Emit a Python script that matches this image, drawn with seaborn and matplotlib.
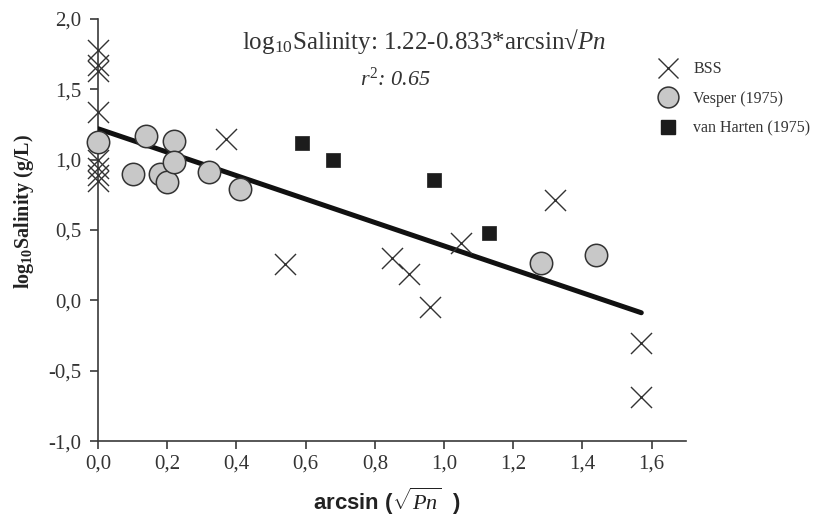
import numpy as np
import pandas as pd
import matplotlib
matplotlib.use("Agg")
import matplotlib.pyplot as plt
from matplotlib.ticker import FuncFormatter, MultipleLocator
from matplotlib.lines import Line2D
import seaborn as sns

# BSS samples
bss_x = [0.0, 0.0, 0.0, 0.0, 0.0, 0.0, 0.0, 0.0, 0.37, 0.54, 0.85, 0.90, 0.96, 1.05, 1.32, 1.57, 1.57]
bss_y = [1.78, 1.67, 1.63, 1.34, 1.00, 0.94, 0.89, 0.85, 1.15, 0.26, 0.30, 0.185, -0.05, 0.41, 0.71, -0.30, -0.69]

# Vesper (1975)
ves_x = [0.0, 0.10, 0.14, 0.18, 0.20, 0.22, 0.22, 0.32, 0.41, 1.28, 1.44]
ves_y = [1.125, 0.90, 1.17, 0.90, 0.84, 1.13, 0.98, 0.91, 0.79, 0.265, 0.325]

# van Harten (1975)
vh_x = [0.59, 0.68, 0.97, 1.13]
vh_y = [1.116, 1.00, 0.853, 0.481]

# Regression: log10 Salinity = 1.22 - 0.833 * arcsin(sqrt(Pn))
intercept = 1.22
slope = -0.833
r2 = 0.65

sns.set_theme(style="ticks")
plt.rcParams["font.family"] = ["Liberation Serif", "DejaVu Serif"]
plt.rcParams["mathtext.fontset"] = "custom"
plt.rcParams["mathtext.rm"] = "Liberation Serif"
plt.rcParams["mathtext.it"] = "Liberation Serif:italic"
plt.rcParams["mathtext.bf"] = "Liberation Serif:bold"

fig = plt.figure(figsize=(8.17, 5.27), dpi=100)
ax = fig.add_axes([0.12, 0.163, 0.72, 0.801])

axis_col = "#3a3a3a"

# regression line over the observed range
all_x = bss_x + ves_x + vh_x
fit_x = np.array([min(all_x), max(all_x)])
fit = pd.DataFrame({"x": fit_x, "y": intercept + slope * fit_x})
sns.lineplot(data=fit, x="x", y="y", ax=ax, color="#111111", linewidth=3.6,
             solid_capstyle="round", zorder=3)

bss = pd.DataFrame({"x": bss_x, "y": bss_y})
ves = pd.DataFrame({"x": ves_x, "y": ves_y})
vh = pd.DataFrame({"x": vh_x, "y": vh_y})

sns.scatterplot(data=bss, x="x", y="y", ax=ax, marker="x", s=230,
                color="#333333", linewidth=1.0, zorder=4)
sns.scatterplot(data=ves, x="x", y="y", ax=ax, marker="o", s=260,
                color="#c8c8c8", edgecolor="#333333", linewidth=1.1, zorder=4)
sns.scatterplot(data=vh, x="x", y="y", ax=ax, marker="s", s=110,
                color="#1c1c1c", edgecolor="#1c1c1c", linewidth=0.5, zorder=4)

ax.set_xlim(0, 1.70)
ax.set_ylim(-1.0, 2.0)
ax.yaxis.set_major_locator(MultipleLocator(0.5))
comma = FuncFormatter(lambda v, p: f"{v:.1f}".replace(".", ","))
ax.xaxis.set_major_formatter(comma)
ax.yaxis.set_major_formatter(comma)
ax.set_xticks([0, 0.2, 0.4, 0.6, 0.8, 1.0, 1.2, 1.4, 1.6])

for side in ("top", "right"):
    ax.spines[side].set_visible(False)
for side in ("left", "bottom"):
    ax.spines[side].set_color(axis_col)
    ax.spines[side].set_linewidth(1.2)
ax.tick_params(axis="both", colors=axis_col, labelcolor="#333333", labelsize=15,
               length=6, width=1.2)
ax.tick_params(axis="x", pad=4)
ax.tick_params(axis="y", pad=6)
for c in ax.collections:
    c.set_clip_on(False)

ax.set_ylabel(r"log$_{\mathbf{10}}$Salinity (g/L)", fontsize=14.5, fontweight="bold",
              color="#222222")
ax.yaxis.set_label_coords(-0.105, 0.543)
ax.set_xlabel(r"arcsin ($\sqrt{Pn}$  )", fontsize=16, fontweight="bold",
              family=["Liberation Sans", "DejaVu Sans"], color="#222222")
ax.xaxis.set_label_coords(0.49, -0.105)

ax.text(0.555, 0.946, "log$_{\\mathrm{10}}$Salinity: 1.22-0.833*arcsin\u221a$Pn$",
        transform=ax.transAxes, ha="center", va="center", fontsize=18, color="#333333")
ax.text(0.505, 0.857, f"$r^{{2}}$: {r2:.2f}",
        transform=ax.transAxes, ha="center", va="center", fontsize=16,
        style="italic", color="#333333")

handles = [
    Line2D([], [], marker="x", linestyle="none", markersize=15, color="#333333",
           markeredgewidth=1.0),
    Line2D([], [], marker="o", linestyle="none", markersize=15,
           markerfacecolor="#c8c8c8", markeredgecolor="#333333", markeredgewidth=1.1),
    Line2D([], [], marker="s", linestyle="none", markersize=10,
           markerfacecolor="#1c1c1c", markeredgecolor="#1c1c1c"),
]
fig.legend(handles, ["BSS", "Vesper (1975)", "van Harten (1975)"],
           loc="upper left", bbox_to_anchor=(0.794, 0.89), frameon=False,
           fontsize=11.5, handletextpad=0.6, labelspacing=0.85, labelcolor="#333333",
           borderaxespad=0, borderpad=0.2)

fig.savefig("out.png", dpi=100)
